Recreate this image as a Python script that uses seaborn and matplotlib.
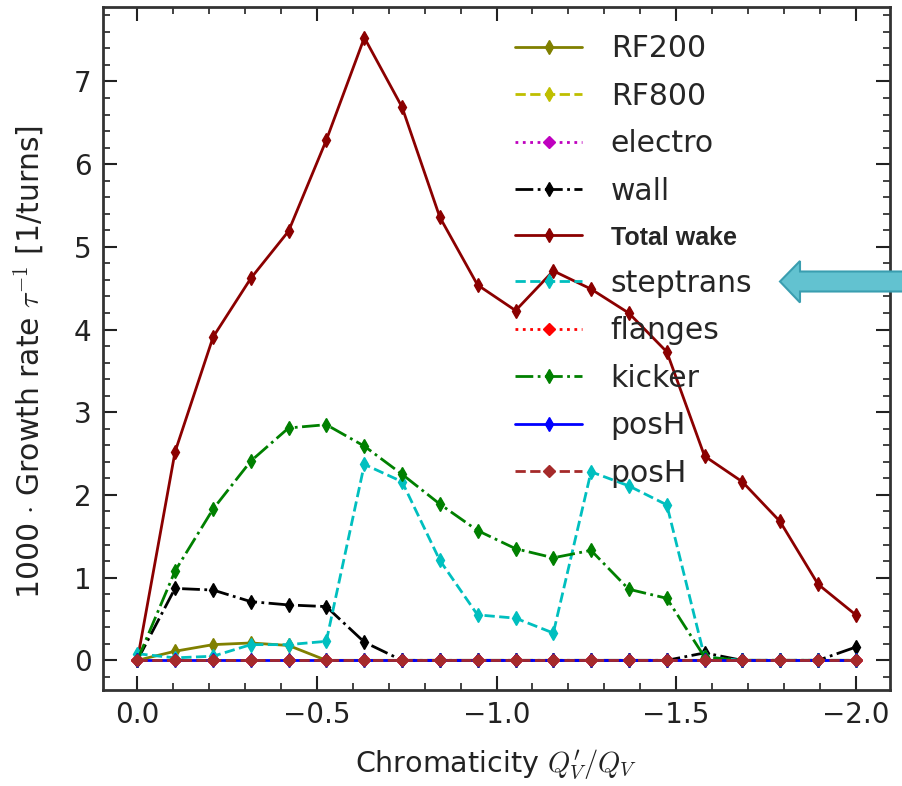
import numpy as np
import pandas as pd
import matplotlib
matplotlib.use("Agg")
import matplotlib.pyplot as plt
import seaborn as sns
from matplotlib.patches import Polygon
from matplotlib.ticker import MultipleLocator

# ---- data ----
chroma = [0.0, -0.105, -0.211, -0.316, -0.421, -0.526, -0.632, -0.737, -0.842, -0.947,
          -1.053, -1.158, -1.263, -1.368, -1.474, -1.579, -1.684, -1.789, -1.895, -2.0]
rf200 = [0.0, 0.11, 0.19, 0.21, 0.18, 0.0, 0.0, 0.0, 0.0, 0.0,
         0.0, 0.0, 0.0, 0.0, 0.0, 0.0, 0.0, 0.0, 0.0, 0.0]
rf800 = [0.0] * 20
electro = [0.0] * 20
wall = [0.0, 0.87, 0.85, 0.71, 0.67, 0.65, 0.22, 0.0, 0.0, 0.0,
        0.0, 0.0, 0.0, 0.0, 0.0, 0.09, 0.0, 0.0, 0.0, 0.16]
total_wake = [0.0, 2.52, 3.91, 4.62, 5.19, 6.29, 7.53, 6.69, 5.36, 4.54,
              4.23, 4.71, 4.49, 4.2, 3.73, 2.47, 2.16, 1.68, 0.92, 0.55]
steptrans = [0.08, 0.03, 0.05, 0.19, 0.19, 0.23, 2.37, 2.16, 1.21, 0.55,
             0.51, 0.33, 2.28, 2.11, 1.88, 0.04, 0.0, 0.0, 0.0, 0.0]
flanges = [0.0] * 20
kicker = [0.0, 1.08, 1.83, 2.41, 2.81, 2.85, 2.59, 2.25, 1.89, 1.57,
          1.35, 1.24, 1.33, 0.86, 0.75, 0.04, 0.0, 0.0, 0.0, 0.0]
posH_a = [0.0] * 20
posH_b = [0.0] * 20

series = [
    ("RF200", rf200, "#808000", "-", "d", 7),
    ("RF800", rf800, "#BFBF00", "--", "d", 7),
    ("electro", electro, "#BF00BF", ":", "D", 6),
    ("wall", wall, "black", "-.", "d", 7),
    ("Total wake", total_wake, "#8B0000", "-", "d", 7),
    ("steptrans", steptrans, "#00BFBF", "--", "d", 7),
    ("flanges", flanges, "red", ":", "D", 6),
    ("kicker", kicker, "green", "-.", "d", 7),
    ("posH", posH_a, "blue", "-", "d", 7),
    ("posH ", posH_b, "#A52A2A", "--", "D", 6.5),
]

sns.set_theme(style="ticks")
plt.rcParams["font.family"] = ["DejaVu Sans"]
plt.rcParams["mathtext.fontset"] = "cm"

fig = plt.figure(figsize=(9.02, 7.86), dpi=100)
ax = fig.add_axes([0.114, 0.122, 0.873, 0.869])

for name, vals, col, ls, mk, ms in series:
    df = pd.DataFrame({"x": chroma, "y": vals})
    sns.lineplot(data=df, x="x", y="y", ax=ax, color=col, linestyle=ls,
                 marker=mk, markersize=ms, markeredgewidth=1.0,
                 markeredgecolor=col, linewidth=2.0, label=name, sort=False)

ax.set_xlim(0.096, -2.096)
ax.set_ylim(-0.36, 7.9)
ax.xaxis.set_major_locator(MultipleLocator(0.5))
ax.xaxis.set_minor_locator(MultipleLocator(0.1))
ax.yaxis.set_major_locator(MultipleLocator(1))
ax.yaxis.set_minor_locator(MultipleLocator(0.2))
ax.tick_params(which="both", direction="in", top=True, right=True,
               labelsize=20, colors="#222222")
ax.tick_params(which="major", length=10, width=1.5, pad=8)
ax.tick_params(which="minor", length=5, width=1.2)
for sp in ax.spines.values():
    sp.set_linewidth(2.0)
    sp.set_color("#333333")

ax.set_xlabel("Chromaticity $Q^{\\prime}_V/Q_V$", fontsize=20.5, color="#222222",
              labelpad=13)
ax.set_ylabel("1000 $\\cdot$ Growth rate $\\tau^{-1}$ [1/turns]", fontsize=21.5,
              color="#222222", labelpad=20)
ax.yaxis.label.set_y(0.48)

leg = ax.legend(loc="upper left", bbox_to_anchor=(0.497, 0.991), frameon=False,
                fontsize=21.5, handlelength=2.25, handletextpad=0.95,
                labelspacing=0.62, borderaxespad=0.3)
for t in leg.get_texts():
    if t.get_text() == "Total wake":
        t.set_fontweight("bold")
        t.set_fontsize(18)
        t.set_fontfamily("Liberation Sans")

# arrow decoration at right edge (pixel coords -> figure fraction)
W, H = 902, 786
pts = [(780, 281.5), (800, 261), (800, 271.5), (905, 271.5), (905, 291.5),
       (800, 291.5), (800, 302.5)]
pts = [(x / W, 1 - y / H) for x, y in pts]
fig.patches.append(Polygon(pts, closed=True, transform=fig.transFigure,
                           facecolor="#62C2D0", edgecolor="#3A9EB0", linewidth=1.5))

fig.savefig("out.png", dpi=100)
